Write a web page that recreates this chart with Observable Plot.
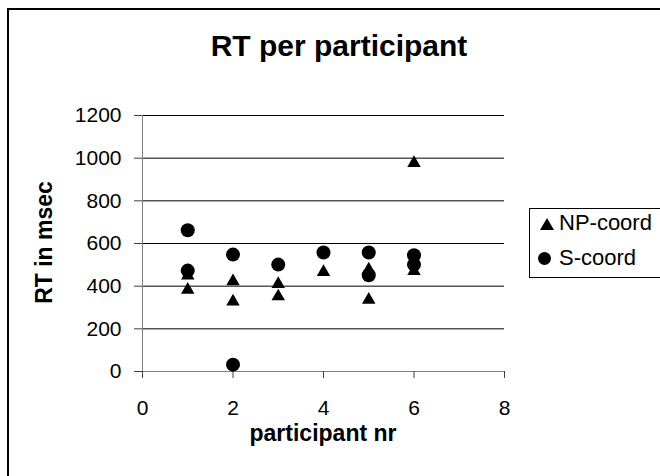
<!DOCTYPE html>
<html><head><meta charset="utf-8">
<script src="https://cdn.jsdelivr.net/npm/d3@7"></script>
<script src="https://cdn.jsdelivr.net/npm/@observablehq/plot@0.6"></script>
<style>
html,body{margin:0;padding:0;background:#fff;overflow:hidden;}
#wrap{position:relative;width:660px;height:476px;overflow:hidden;font-family:"Liberation Sans",Arial,sans-serif;color:#000;}
#frame{position:absolute;left:7px;top:8px;width:720px;height:520px;border:2px solid #000;box-sizing:border-box;}
#chart{position:absolute;left:0;top:0;}
.t{position:absolute;white-space:nowrap;}
#title{font-weight:bold;font-size:30px;line-height:30px;top:31px;left:139px;width:400px;text-align:center;}
#xlab{font-weight:bold;font-size:23px;line-height:23px;top:422px;left:173px;width:300px;text-align:center;}
#ylab{font-weight:bold;font-size:23px;line-height:23px;width:200px;text-align:center;left:-56px;top:231px;transform:rotate(-90deg);}
#legend{position:absolute;left:529px;top:208px;width:200px;height:70px;border:1px solid #000;box-sizing:border-box;}
.lt{font-size:22px;line-height:22px;}
#tri{position:absolute;left:540px;top:218px;width:0;height:0;border-left:7px solid transparent;border-right:7px solid transparent;border-bottom:12px solid #000;}
#cir{position:absolute;left:538px;top:252px;width:13px;height:13px;border-radius:50%;background:#000;}
</style></head>
<body>
<div id="wrap">
  <div id="frame"></div>
  <div id="chart"></div>
  <div class="t" id="title">RT per participant</div>
  <div class="t" id="xlab">participant nr</div>
  <div class="t" id="ylab">RT in msec</div>
  <div id="legend"></div>
  <div id="tri"></div>
  <div id="cir"></div>
  <div class="t lt" style="left:559px;top:212px;">NP-coord</div>
  <div class="t lt" style="left:559px;top:247px;">S-coord</div>
</div>
<script>
const xTicks = [0, 2, 4, 6, 8];
const yTicks = [0, 200, 400, 600, 800, 1000, 1200];
const seriesNames = ["NP-coord", "S-coord"];
const npX = [1, 1, 2, 2, 3, 3, 4, 5, 5, 6, 6];
const npY = [450, 383, 423, 328, 410, 352, 466, 478, 336, 977, 470];
const sX = [1, 1, 2, 2, 3, 4, 5, 5, 6, 6];
const sY = [662, 473, 548, 32, 501, 558, 558, 451, 545, 501];

const np = npX.map((x, i) => ({x, y: npY[i], s: seriesNames[0]}));
const sc = sX.map((x, i) => ({x, y: sY[i], s: seriesNames[1]}));

const chart = Plot.plot({
  width: 660, height: 476,
  marginLeft: 142, marginRight: 156, marginTop: 115, marginBottom: 105,
  style: {fontFamily: "'Liberation Sans', Arial, sans-serif", fontSize: "21px", background: "transparent", color: "#000", overflow: "visible"},
  x: {domain: [0, 8]},
  y: {domain: [0, 1200]},
  marks: [
    Plot.gridY(yTicks.filter(d => d > 0), {stroke: "#000", strokeOpacity: 1, strokeWidth: 1}),
    Plot.ruleX([0], {stroke: "#808080"}),
    Plot.ruleY([0], {stroke: "#808080"}),
    Plot.axisY(yTicks, {tickSize: 8, tickPadding: 13, stroke: "#404040", label: null, fontSize: 21, tickFormat: d => String(d)}),
    Plot.axisX(xTicks, {tickSize: 7, tickPadding: 22, stroke: "#404040", label: null, fontSize: 21, tickFormat: d => String(d)}),
    Plot.dot(np, {x: "x", y: "y", symbol: "triangle", r: 5, fill: "#000"}),
    Plot.dot(sc, {x: "x", y: "y", symbol: "circle", r: 7, fill: "#000"})
  ]
});
document.getElementById("chart").appendChild(chart);
</script>
</body></html>
